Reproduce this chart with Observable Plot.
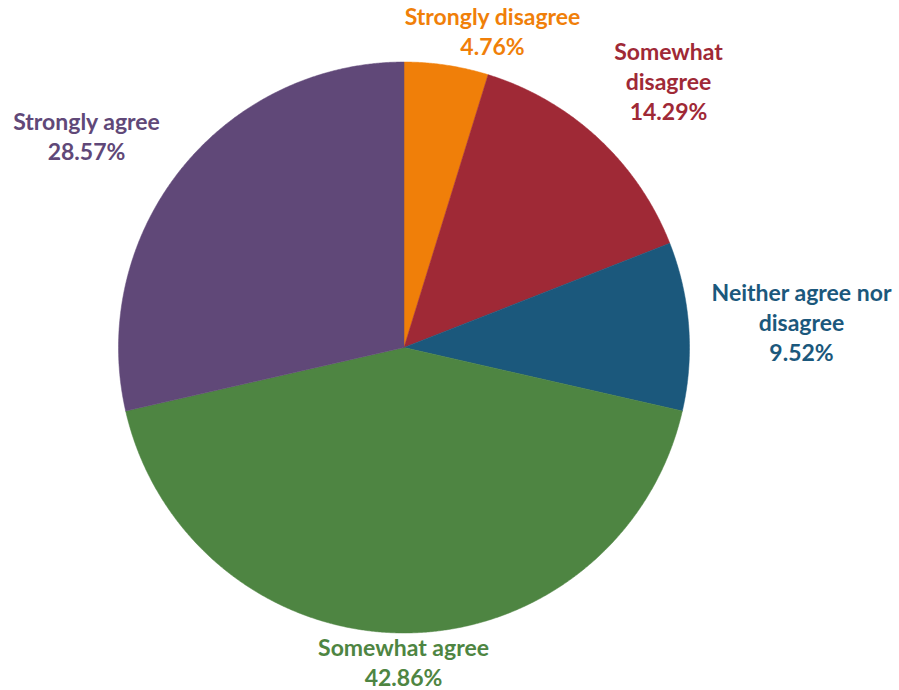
<!DOCTYPE html>
<html>
<head>
<meta charset="utf-8">
<script src="https://cdn.jsdelivr.net/npm/d3@7"></script>
<script src="https://cdn.jsdelivr.net/npm/@observablehq/plot@0.6"></script>
<style>
  html, body { margin: 0; padding: 0; background: #fff; }
</style>
</head>
<body>
<div id="chart"></div>
<script>
// Data
const categories = ["Strongly disagree", "Somewhat disagree", "Neither agree nor disagree", "Somewhat agree", "Strongly agree"];
const percents = [4.76, 14.29, 9.52, 42.86, 28.57];
const labelLines = [
  ["Strongly disagree", "4.76%"],
  ["Somewhat", "disagree", "14.29%"],
  ["Neither agree nor", "disagree", "9.52%"],
  ["Somewhat agree", "42.86%"],
  ["Strongly agree", "28.57%"]
];
const colors = ["#F07F09", "#9F2936", "#1B587C", "#4E8542", "#604878"];

// Layout (pixels)
const W = 899, H = 690;
const cx = 403.5, cy = 347, R = 285.5;
const labelPos = [
  [492, 32], [668, 82], [801, 323], [403, 663], [86, 137]
];

// Build slice polygons from the data
const total = d3.sum(percents);
const slices = [];
let acc = 0;
percents.forEach((p, i) => {
  const a0 = acc / total * 2 * Math.PI;
  acc += p;
  const a1 = acc / total * 2 * Math.PI;
  const n = Math.max(2, Math.ceil((a1 - a0) / 0.005));
  slices.push({cat: categories[i], x: 0, y: 0});
  for (let k = 0; k <= n; k++) {
    const a = a0 + (a1 - a0) * k / n;
    slices.push({cat: categories[i], x: Math.sin(a), y: Math.cos(a)});
  }
  slices.push({cat: categories[i], x: 0, y: 0});
});

const labels = [];
labelLines.forEach((lines, i) => {
  const [px, py] = labelPos[i];
  const n = lines.length;
  lines.forEach((t, j) => {
    labels.push({
      cat: categories[i],
      text: t,
      x: (px - cx) / R,
      y: -((py + (j - (n - 1) / 2) * 30) - cy) / R
    });
  });
});

const chart = Plot.plot({
  width: W,
  height: H,
  margin: 0,
  x: {type: "linear", domain: [-1, 1], range: [cx - R, cx + R], axis: null},
  y: {type: "linear", domain: [-1, 1], range: [cy + R, cy - R], axis: null},
  color: {domain: categories, range: colors},
  style: {fontFamily: "Lato, 'Open Sans', sans-serif", background: "#fff"},
  marks: [
    Plot.line(slices, {x: "x", y: "y", z: "cat", fill: "cat", stroke: "cat", strokeWidth: 0.5, curve: "linear-closed"}),
    Plot.text(labels, {x: "x", y: "y", text: "text", fill: "cat", fontSize: 23, fontWeight: "bold", textAnchor: "middle", lineAnchor: "middle"})
  ]
});
document.getElementById("chart").appendChild(chart);
</script>
</body>
</html>
